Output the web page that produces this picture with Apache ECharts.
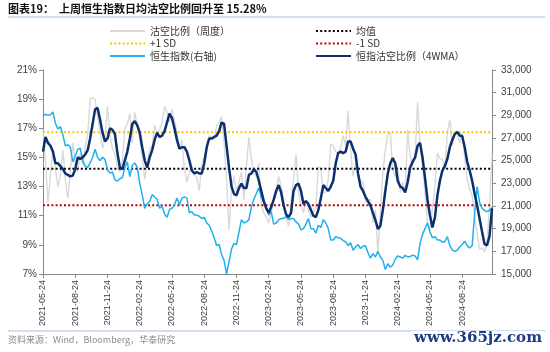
<!DOCTYPE html>
<html>
<head>
<meta charset="utf-8">
<script src="https://cdn.jsdelivr.net/npm/echarts@6/dist/echarts.min.js"></script>
<style>
  html, body { margin: 0; padding: 0; background: #fff; }
  #chart { width: 550px; height: 352px; }
</style>
</head>
<body>
<div id="chart"></div>
<script>
// x axis: weeks counted from the first weekly observation (late May 2021)
const xTickLabels = [
  "2021-05-24", "2021-08-24", "2021-11-24", "2022-02-24", "2022-05-24", "2022-08-24", "2022-11-24",
  "2023-02-24", "2023-05-24", "2023-08-24", "2023-11-24", "2024-02-24", "2024-05-24", "2024-08-24"
];
const weeksPerTick = 13;
const lastWeek = 181;

// 沽空比例（周度）, %
const shortRatioWeekly = [
  16.9, 14.8, 11.9, 13.8, 15.5, 14.2, 13.0, 13.8, 15.5, 13.5,
  12.2, 14.0, 16.0, 14.6, 14.0, 15.3, 14.5, 15.8, 16.5, 19.0,
  19.1, 19.0, 17.8, 16.8, 15.6, 16.4, 18.5, 16.5, 15.6, 15.2,
  14.4, 14.0, 14.8, 17.0, 17.3, 18.0, 16.0, 18.1, 17.2, 16.2,
  15.1, 13.5, 14.6, 15.6, 15.8, 17.2, 16.7, 16.9, 17.4, 18.5,
  18.1, 17.4, 18.3, 17.5, 16.7, 15.6, 16.2, 14.2, 13.3, 14.0,
  14.4, 13.9, 13.6, 12.7, 14.6, 15.0, 15.8, 16.5, 16.4, 16.2,
  17.2, 17.4, 17.8, 16.0, 13.5, 10.0, 12.8, 13.7, 12.6, 13.3,
  14.0, 12.1, 14.4, 16.4, 14.9, 13.9, 13.7, 14.6, 11.7, 11.2,
  10.9, 10.5, 11.2, 11.9, 12.8, 13.7, 13.0, 12.1, 10.8, 10.3,
  12.0, 13.5, 15.2, 12.6, 11.7, 11.2, 12.1, 11.4, 10.9, 11.3,
  11.6, 14.4, 14.2, 12.6, 12.6, 13.5, 15.9, 15.8, 15.4, 15.2,
  15.7, 16.5, 15.8, 18.2, 15.5, 13.7, 14.6, 13.6, 13.4, 13.3,
  11.9, 12.1, 12.1, 10.5, 11.4, 8.5, 11.2, 14.0, 15.5, 16.6,
  16.7, 14.1, 13.7, 14.4, 12.6, 13.3, 12.6, 16.9, 15.1, 14.4,
  15.1, 18.8, 15.8, 14.4, 12.6, 10.5, 10.1, 11.5, 13.0, 15.3,
  14.9, 14.9, 14.2, 16.7, 17.6, 15.8, 16.7, 16.7, 16.0, 16.7,
  15.0, 13.5, 12.8, 12.4, 11.0, 9.8, 8.7, 8.8, 8.5, 9.2,
  11.7, 15.28
];

// 恒指沽空比例（4WMA）, %
const shortRatio4wma = [
  15.4, 16.4, 16.0, 15.8, 15.4, 14.6, 14.6, 14.4, 14.2, 13.9,
  13.8, 13.7, 13.75, 14.2, 15.0, 14.9, 15.0, 15.2, 15.5, 16.3,
  17.3, 18.3, 18.4, 17.6, 16.7, 16.1, 16.3, 17.0, 16.9, 16.6,
  15.3, 14.3, 14.2, 14.8, 15.4, 16.3, 17.3, 17.5, 17.2, 16.7,
  15.7, 14.8, 14.3, 15.0, 15.5, 16.2, 16.7, 16.4, 16.5, 16.8,
  17.4, 18.0, 17.7, 17.0, 16.2, 15.6, 15.7, 15.7, 15.4, 14.8,
  14.1, 13.9, 14.0, 13.9, 13.9, 14.6, 15.7, 16.3, 16.3, 16.4,
  16.5, 16.8, 17.4, 17.3, 15.8, 14.3, 13.0, 12.5, 12.4, 12.9,
  13.2, 12.9, 12.9, 13.8, 13.9, 14.2, 14.0, 13.4, 12.7, 12.0,
  11.5, 11.2, 11.6, 12.1, 12.7, 13.1, 12.6, 11.7, 11.1, 10.9,
  11.2, 12.7, 13.1, 13.2, 12.7, 11.8, 12.0, 11.8, 11.4, 11.0,
  10.9, 11.4, 12.2, 13.1, 12.9, 12.7, 13.0, 13.4, 14.6, 15.3,
  15.4, 15.3, 15.4, 16.1, 16.1, 15.6, 15.2, 13.9, 13.0, 12.7,
  12.3, 12.0, 11.7, 11.2, 10.7, 10.1, 10.3, 11.4, 12.7, 13.9,
  14.6, 14.95, 14.6, 13.4, 13.0, 12.9, 12.6, 13.3, 14.3, 14.7,
  15.0, 15.8, 16.0, 15.0, 13.6, 12.1, 11.0, 10.2, 10.9, 12.4,
  13.4, 14.1, 14.4, 14.9, 15.7, 16.2, 16.6, 16.75, 16.5, 16.45,
  15.7, 14.7, 14.1, 13.4, 12.5, 11.7, 10.8, 9.9, 9.05, 8.97,
  9.6, 11.5
];

// 恒生指数(右轴)
const hsiIndex = [
  28950, 29100, 29000, 29050, 29300, 28300, 27800, 28000, 27300, 26300,
  26400, 26200, 24900, 25400, 26000, 26100, 25000, 24500, 24400, 24800,
  25300, 26000, 25300, 25000, 25300, 25100, 24200, 23900, 24000, 23300,
  23200, 23400, 23500, 24400, 24900, 23600, 24600, 24800, 24400, 23000,
  22000, 20800, 21200, 21400, 22000, 21800, 21600, 20800, 21000, 20300,
  20000, 20700, 20800, 21100, 21700, 21100, 21700, 21800, 21700, 20400,
  20500, 20200, 20200, 20100, 19900, 20000, 19500, 19300, 18800, 18200,
  17500, 17600, 16700, 16200, 15000, 16100, 17200, 17700, 17600, 18700,
  19800, 19500, 19600, 19800, 20900, 21600, 22100, 22600, 21800, 21300,
  20900, 20200, 20500, 19400, 19500, 19800, 19900, 19900, 20100, 19800,
  19900, 19900, 19600, 19400, 18900, 19000, 19400, 19900, 19000, 19000,
  18600, 19300, 19100, 19800, 19500, 19000, 18000, 18000, 18300, 18200,
  18150, 17950, 17850, 17500, 17750, 17100, 17400, 17600, 17250, 17450,
  17500, 16900, 16400, 16800, 16500, 17000, 16500, 16200, 15400, 15900,
  15600, 15800, 16300, 16600, 16500, 16400, 16650, 16500, 16550, 16650,
  16600, 16250, 17700, 18500, 19000, 19500, 18700, 18200, 18300, 18000,
  18000, 17800, 17850, 18300, 17500, 17100, 17000, 17100, 17400, 17600,
  17900, 17500, 17300, 17500, 20300, 22700, 21300, 20800, 20600, 20500,
  20600, 20900
];

const meanValue = 14.22;
const plusOneSd = 16.72;
const minusOneSd = 11.71;

const CJK = '"Noto Sans CJK SC", sans-serif';
const LAT = '"Liberation Sans", Arial, sans-serif';

const toPairs = arr => arr.map((v, i) => [i, v]);
const flat = v => [[0, v], [lastWeek, v]];

const chart = echarts.init(document.getElementById('chart'), null, { renderer: 'canvas' });

const dotted = (color) => ({ color, width: 2, type: [2, 2.2] });

// legend: line only, hide the default circle marker
const legendBase = {
  orient: 'vertical', top: 21, itemWidth: 35, itemHeight: 10, itemGap: 2.5,
  itemStyle: { opacity: 0 },
  textStyle: { fontFamily: CJK, fontSize: 10, color: '#333' }
};

chart.setOption({
  animation: false,
  backgroundColor: '#fff',
  grid: { left: 43, right: 58, top: 70, bottom: 78 },
  legend: [
    Object.assign({}, legendBase, { left: 104, data: ['沽空比例（周度）', '+1 SD', '恒生指数(右轴)'] }),
    Object.assign({}, legendBase, { left: 310, data: ['均值', '-1 SD', '恒指沽空比例（4WMA）'] })
  ],
  xAxis: {
    type: 'value', min: 0, max: lastWeek, interval: weeksPerTick,
    splitLine: { show: false },
    axisLine: { lineStyle: { color: '#888' } },
    axisTick: { show: true, length: 4, lineStyle: { color: '#888' } },
    axisLabel: {
      rotate: 90, fontSize: 9, fontFamily: LAT, color: '#404040', margin: 6,
      showMaxLabel: false,
      formatter: v => (v % weeksPerTick === 0 ? (xTickLabels[v / weeksPerTick] || '') : '')
    }
  },
  yAxis: [
    {
      type: 'value', min: 7, max: 21, interval: 2,
      splitLine: { show: false },
      axisLine: { show: true, lineStyle: { color: '#888' } },
      axisTick: { show: true, length: 4, lineStyle: { color: '#888' } },
      axisLabel: { formatter: '{value}%', fontSize: 10, fontFamily: LAT, color: '#404040', margin: 6 }
    },
    {
      type: 'value', min: 15000, max: 33000, interval: 2000, position: 'right',
      splitLine: { show: false },
      axisLine: { show: true, lineStyle: { color: '#888' } },
      axisTick: { show: true, length: 4, lineStyle: { color: '#888' } },
      axisLabel: {
        fontSize: 10, fontFamily: LAT, color: '#404040', margin: 9,
        formatter: v => v.toLocaleString('en-US')
      }
    }
  ],
  series: [
    {
      name: '沽空比例（周度）', type: 'line', yAxisIndex: 0, symbol: 'none', z: 1,
      lineStyle: { color: '#d9d9d9', width: 1.4 }, itemStyle: { color: '#d9d9d9' },
      data: toPairs(shortRatioWeekly)
    },
    {
      name: '均值', type: 'line', symbol: 'none', z: 2,
      lineStyle: dotted('#000'), itemStyle: { color: '#000' },
      data: flat(meanValue)
    },
    {
      name: '+1 SD', type: 'line', symbol: 'none', z: 2,
      lineStyle: dotted('#ffc000'), itemStyle: { color: '#ffc000' },
      data: flat(plusOneSd)
    },
    {
      name: '-1 SD', type: 'line', symbol: 'none', z: 2,
      lineStyle: dotted('#c00000'), itemStyle: { color: '#c00000' },
      data: flat(minusOneSd)
    },
    {
      name: '恒生指数(右轴)', type: 'line', yAxisIndex: 1, symbol: 'none', z: 3,
      lineStyle: { color: '#1fb0ee', width: 1.5 }, itemStyle: { color: '#1fb0ee' },
      data: toPairs(hsiIndex)
    },
    {
      name: '恒指沽空比例（4WMA）', type: 'line', yAxisIndex: 0, symbol: 'none', z: 4,
      lineStyle: { color: '#0c2f6e', width: 2.5 }, itemStyle: { color: '#0c2f6e' },
      data: toPairs(shortRatio4wma)
    }
  ],
  graphic: [
    {
      type: 'text', left: 8, top: 3,
      style: { text: '图表19：  上周恒生指数日均沽空比例回升至 15.28%', font: 'bold 11px ' + CJK, fill: '#111' }
    },
    { type: 'line', shape: { x1: 8, y1: 17, x2: 545, y2: 17 }, style: { stroke: '#a9bfdc', lineWidth: 1 } },
    { type: 'line', shape: { x1: 8, y1: 331, x2: 545, y2: 331 }, style: { stroke: '#a9bfdc', lineWidth: 1 } },
    {
      type: 'text', left: 8, top: 335,
      style: { text: '资料来源：Wind，Bloomberg，华泰研究', font: '9px ' + CJK, fill: '#8c8c8c' }
    },
    {
      type: 'text', right: 6, top: 331, z: 10,
      style: {
        text: 'www.365jz.com', font: 'bold 15px "DejaVu Serif", serif', fill: '#1f3d86',
        backgroundColor: '#fff', padding: [0, 2]
      }
    }
  ]
});
</script>
</body>
</html>
